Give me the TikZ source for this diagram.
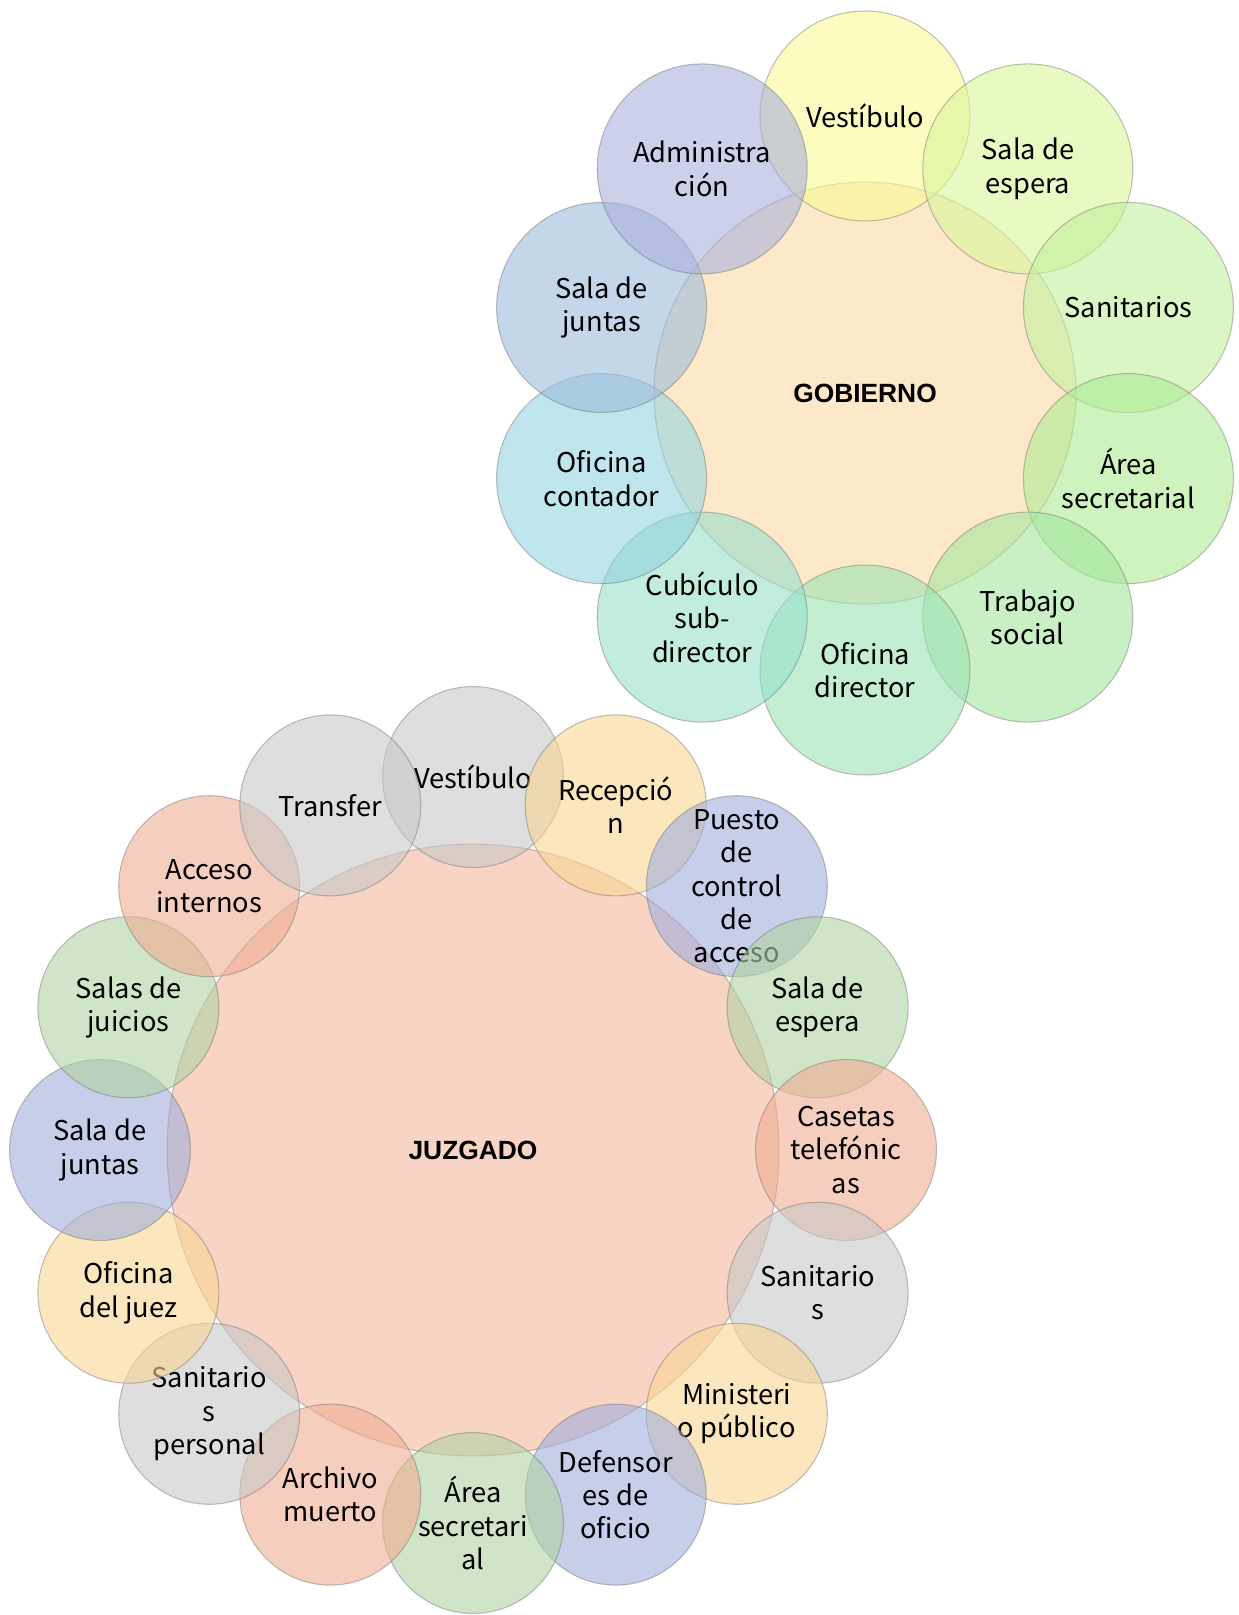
\documentclass[tikz,border=0pt]{standalone}
\usepackage{fontspec}
\usepackage{xcolor}
\usepackage{tikz}
\setmainfont{Noto Sans CJK SC}
\newfontfamily\titlefont{Liberation Sans}

\definecolor{gobhub}{RGB}{252,218,165}
\definecolor{gvest}{RGB}{250,248,150}
\definecolor{gesp}{RGB}{217,245,153}
\definecolor{gsan}{RGB}{193,240,157}
\definecolor{gsec}{RGB}{173,235,147}
\definecolor{gtra}{RGB}{163,230,157}
\definecolor{gdir}{RGB}{157,227,180}
\definecolor{gcub}{RGB}{153,223,203}
\definecolor{gcon}{RGB}{147,213,223}
\definecolor{gjun}{RGB}{157,187,220}
\definecolor{gadm}{RGB}{170,177,220}
\definecolor{juzhub}{RGB}{243,183,157}
\definecolor{jgray}{RGB}{200,200,200}
\definecolor{jorange}{RGB}{250,213,147}
\definecolor{jblue}{RGB}{160,173,220}
\definecolor{jgreen}{RGB}{177,210,163}
\definecolor{jsalmon}{RGB}{240,173,147}

\begin{document}
\begin{tikzpicture}[x=0.02cm, y=-0.02cm,
    ring/.style={draw=black!55, draw opacity=0.45, line width=0.6pt, circle, inner sep=0pt,
        fill opacity=0.6, text opacity=1, align=center},
    hub/.style={ring, font=\titlefont\bfseries\fontsize{15}{18}\selectfont},
    gsat/.style={ring, minimum size=4.2cm, font=\fontsize{15.5}{19}\selectfont},
    jsat/.style={ring, minimum size=3.62cm, font=\fontsize{15.5}{19}\selectfont}]
    \useasboundingbox (0, 0) rectangle (1238, 1615);

    \node[hub, minimum size=8.44cm, fill=gobhub] (gob) at (865, 393) {GOBIERNO};
    \node[gsat, fill=gvest] (g1) at (865, 116) {Vestíbulo};
    \node[gsat, fill=gesp] (g2) at (1027.8, 168.9) {Sala de\\espera};
    \node[gsat, fill=gsan] (g3) at (1128.4, 307.4) {Sanitarios};
    \node[gsat, fill=gsec] (g4) at (1128.4, 478.6) {Área\\secretarial};
    \node[gsat, fill=gtra] (g5) at (1027.8, 617.1) {Trabajo\\social};
    \node[gsat, fill=gdir] (g6) at (865, 670) {Oficina\\director};
    \node[gsat, fill=gcub] (g7) at (702.2, 617.1) {Cubículo\\sub-\\director};
    \node[gsat, fill=gcon] (g8) at (601.6, 478.6) {Oficina\\contador};
    \node[gsat, fill=gjun] (g9) at (601.6, 307.4) {Sala de\\juntas};
    \node[gsat, fill=gadm] (g10) at (702.2, 168.9) {Administra\\ción};

    \node[hub, minimum size=12.24cm, fill=juzhub] (juz) at (473, 1150) {JUZGADO};
    \node[jsat, fill=jgray] (j1) at (473, 777) {Vestíbulo};
    \node[jsat, fill=jorange] (j2) at (615.7, 805.4) {Recepció\\n};
    \node[jsat, fill=jblue] (j3) at (736.8, 886.2) {Puesto\\de\\control\\de\\acceso};
    \node[jsat, fill=jgreen] (j4) at (817.6, 1007.3) {Sala de\\espera};
    \node[jsat, fill=jsalmon] (j5) at (846, 1150) {Casetas\\telefónic\\as};
    \node[jsat, fill=jgray] (j6) at (817.6, 1292.7) {Sanitario\\s};
    \node[jsat, fill=jorange] (j7) at (736.8, 1413.8) {Ministeri\\o público};
    \node[jsat, fill=jblue] (j8) at (615.7, 1494.6) {Defensor\\es de\\oficio};
    \node[jsat, fill=jgreen] (j9) at (473, 1523) {Área\\secretari\\al};
    \node[jsat, fill=jsalmon] (j10) at (330.3, 1494.6) {Archivo\\muerto};
    \node[jsat, fill=jgray] (j11) at (209.2, 1413.8) {Sanitario\\s\\personal};
    \node[jsat, fill=jorange] (j12) at (128.4, 1292.7) {Oficina\\del juez};
    \node[jsat, fill=jblue] (j13) at (100, 1150) {Sala de\\juntas};
    \node[jsat, fill=jgreen] (j14) at (128.4, 1007.3) {Salas de\\juicios};
    \node[jsat, fill=jsalmon] (j15) at (209.2, 886.2) {Acceso\\internos};
    \node[jsat, fill=jgray] (j16) at (330.3, 805.4) {Transfer};
\end{tikzpicture}
\end{document}
